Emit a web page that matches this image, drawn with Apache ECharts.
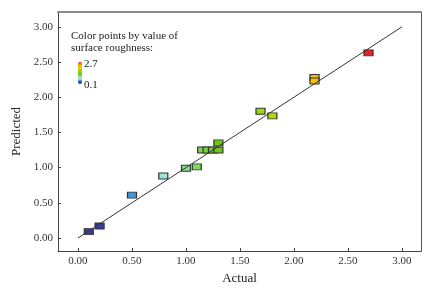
<!DOCTYPE html>
<html>
<head>
<meta charset="utf-8">
<script src="https://cdn.jsdelivr.net/npm/echarts@6/dist/echarts.min.js"></script>
<style>
  html, body { margin: 0; padding: 0; background: #fff; }
  #chart { width: 437px; height: 290px; }
</style>
</head>
<body>
<div id="chart"></div>
<script>
// actual vs predicted surface roughness
const actual = [0.10, 0.20, 0.50, 0.79, 1.00, 1.10, 1.15, 1.20, 1.25, 1.30, 1.30, 1.69, 1.80, 2.19, 2.19, 2.69];
const predicted = [0.09, 0.17, 0.61, 0.88, 0.99, 1.01, 1.25, 1.25, 1.25, 1.25, 1.35, 1.80, 1.735, 2.28, 2.23, 2.63];
const tickValues = [0, 0.5, 1, 1.5, 2, 2.5, 3];
const fitLine = [[0, 0], [3, 3]];
const colorMin = 0.1;
const colorMax = 2.7;

const font = "Liberation Serif";
const points = actual.map((a, i) => [a, predicted[i]]);

const chart = echarts.init(document.getElementById("chart"));

const valueAxis = (extra) => ({
  type: "value",
  splitLine: { show: false },
  axisLine: { show: true, onZero: false, lineStyle: { color: "#444", width: 1 } },
  axisTick: { show: true, inside: true, length: 3, customValues: tickValues, lineStyle: { color: "#444" } },
  axisLabel: {
    customValues: tickValues,
    formatter: (v) => v.toFixed(2),
    color: "#333",
    fontFamily: font,
    fontSize: 11,
    margin: 5,
  },
  nameTextStyle: { fontFamily: font, fontSize: 13, color: "#222" },
  ...extra,
});

const frameAxis = (extra, line) => ({
  type: "value",
  splitLine: { show: false },
  axisTick: { show: false },
  axisLabel: { show: false },
  axisLine: { show: true, onZero: false, lineStyle: line },
  ...extra,
});

chart.setOption({
  animation: false,
  title: {
    text: "Color points by value of\nsurface roughness:",
    left: 71,
    top: 30,
    padding: 0,
    textStyle: { fontFamily: font, fontSize: 11, fontWeight: "normal", color: "#222", lineHeight: 12 },
  },
  grid: { left: 58, right: 16, top: 12, bottom: 39 },
  xAxis: [
    valueAxis({ min: -0.185, max: 3.176, name: "Actual", nameLocation: "middle", nameGap: 21 }),
    frameAxis({ min: -0.185, max: 3.176, position: "top" }, { color: "#8a8a8a", width: 2 }),
  ],
  yAxis: [
    valueAxis({ min: -0.185, max: 3.21, name: "Predicted", nameLocation: "middle", nameGap: 28 }),
    frameAxis({ min: -0.185, max: 3.21, position: "right" }, { color: "#555", width: 1 }),
  ],
  visualMap: {
    type: "continuous",
    seriesIndex: 1,
    dimension: 0,
    min: colorMin,
    max: colorMax,
    calculable: false,
    showLabel: false,
    text: null,
    left: 78,
    top: 62,
    padding: 0,
    itemWidth: 4,
    itemHeight: 22,
    hoverLink: false,
    inRange: {
      color: ["#3a3aa0", "#3a3aa8", "#3c9ad8", "#a0e8f0", "#98e4c0", "#7cd860", "#6cc810",
              "#88d010", "#a0d810", "#c0d800", "#f0c800", "#f8b800", "#f07020", "#e82020"],
    },
  },
  graphic: [
    { type: "text", left: 84, top: 59, style: { text: "2.7", fontFamily: font, fontSize: 11, fill: "#222" } },
    { type: "text", left: 84, top: 80, style: { text: "0.1", fontFamily: font, fontSize: 11, fill: "#222" } },
  ],
  series: [
    {
      type: "line",
      data: fitLine,
      symbol: "none",
      silent: true,
      lineStyle: { color: "#333", width: 1 },
    },
    {
      type: "scatter",
      data: points,
      symbol: "rect",
      symbolSize: [9, 6],
      itemStyle: { borderColor: "#333", borderWidth: 1, opacity: 1 },
    },
  ],
});
</script>
</body>
</html>
